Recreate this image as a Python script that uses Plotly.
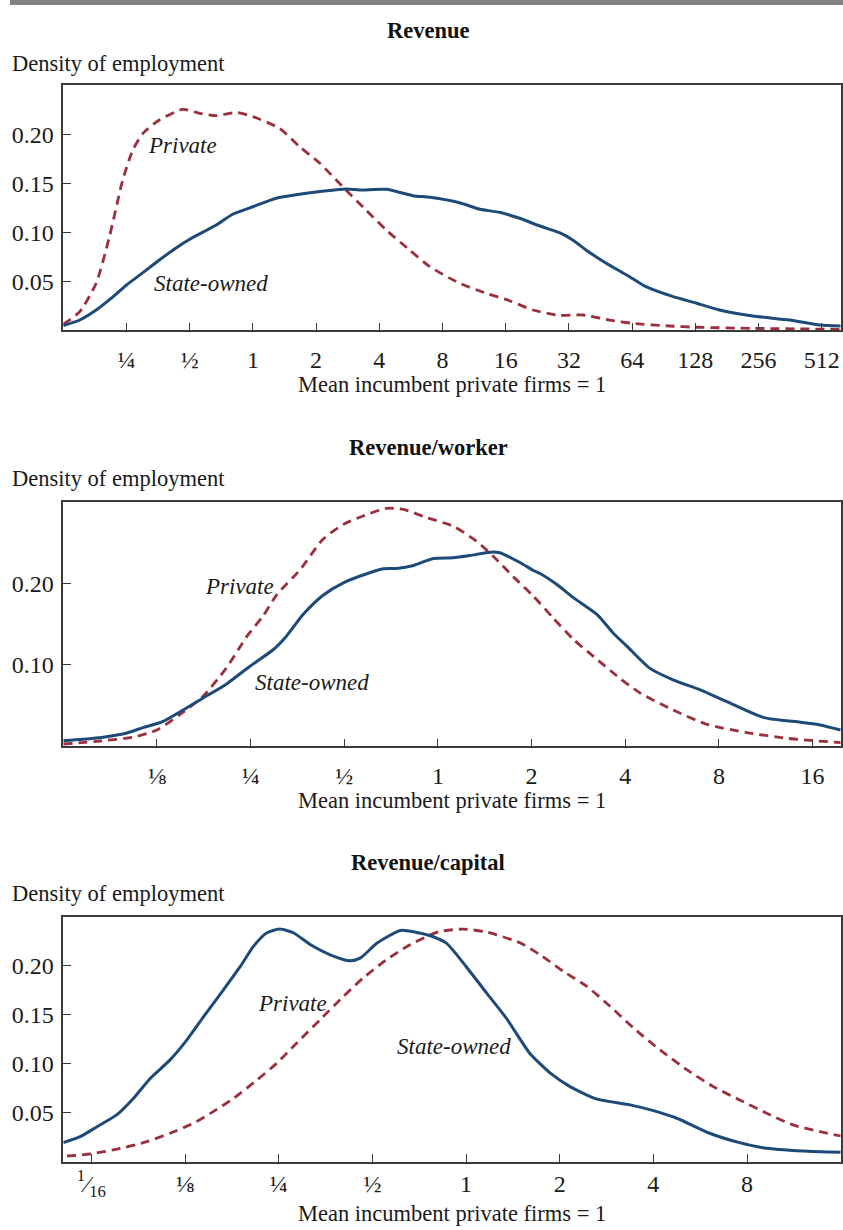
import numpy as np
import plotly.graph_objects as go

# ---------------- data (x in log2 of ratio to mean incumbent private firm) -------------
rev_state_log2 = [-3.0, -2.74, -2.48, -2.21, -2.0, -1.74, -1.48, -1.21, -1.0, -0.58, -0.32, 0.0,
                  0.37, 0.74, 1.0, 1.48, 1.69, 2.11, 2.53, 2.8, 3.27, 3.59, 3.9, 4.22, 4.54,
                  4.85, 5.06, 5.27, 5.59, 5.96, 6.22, 6.65, 7.02, 7.38, 7.91, 8.49, 8.97, 9.3]
rev_state = [0.0047, 0.0105, 0.0207, 0.0343, 0.0462, 0.0588, 0.0717, 0.0843, 0.0929, 0.1074,
             0.1184, 0.1261, 0.1347, 0.1388, 0.1411, 0.1442, 0.1432, 0.1439, 0.1374, 0.1357,
             0.1302, 0.1235, 0.1204, 0.1143, 0.1064, 0.0996, 0.0921, 0.0819, 0.0684, 0.0547,
             0.0445, 0.0343, 0.0276, 0.0207, 0.0146, 0.0105, 0.0054, 0.0044]
rev_priv_log2 = [-3.0, -2.74, -2.48, -2.27, -2.06, -1.90, -1.74, -1.48, -1.11, -0.84, -0.58,
                 -0.26, 0.0, 0.42, 0.74, 1.06, 1.42, 1.79, 2.11, 2.48, 2.8, 3.27, 3.69, 4.06,
                 4.43, 4.85, 5.22, 5.64, 6.01, 6.59, 7.02, 7.91, 9.3]
rev_priv = [0.0061, 0.019, 0.048, 0.0955, 0.1534, 0.184, 0.201, 0.2146, 0.2255, 0.2214, 0.219,
            0.2224, 0.218, 0.2061, 0.1873, 0.1704, 0.1465, 0.1228, 0.1023, 0.0819, 0.0649,
            0.048, 0.0378, 0.0302, 0.0207, 0.0153, 0.0156, 0.0105, 0.0071, 0.0044, 0.0031,
            0.002, 0.001]

rpw_state_log2 = [-4.0, -3.79, -3.54, -3.33, -3.15, -2.94, -2.72, -2.51, -2.26, -2.01, -1.76,
                  -1.62, -1.44, -1.23, -1.01, -0.76, -0.58, -0.44, -0.26, -0.05, 0.16, 0.34,
                  0.56, 0.66, 0.88, 1.02, 1.09, 1.27, 1.45, 1.70, 1.87, 2.02, 2.26, 2.51, 2.80,
                  3.12, 3.48, 3.87, 4.08, 4.3]
rpw_state = [0.0069, 0.0086, 0.0118, 0.016, 0.0229, 0.0303, 0.0446, 0.059, 0.0762, 0.0979,
             0.1184, 0.1348, 0.1615, 0.1849, 0.2005, 0.2116, 0.2177, 0.2181, 0.2218, 0.2304,
             0.2312, 0.234, 0.2381, 0.2374, 0.2251, 0.2156, 0.2119, 0.1984, 0.182, 0.1615,
             0.139, 0.1225, 0.0959, 0.0816, 0.0692, 0.0529, 0.0352, 0.0295, 0.0262, 0.02]
rpw_priv_log2 = [-4.0, -3.61, -3.26, -3.0, -2.76, -2.51, -2.26, -2.04, -1.87, -1.72, -1.47,
                 -1.23, -1.01, -0.80, -0.55, -0.37, -0.12, 0.16, 0.41, 0.59, 0.80, 1.02, 1.23,
                 1.45, 1.66, 1.94, 2.16, 2.51, 2.87, 3.30, 3.73, 4.3]
rpw_priv = [0.0028, 0.0065, 0.011, 0.02, 0.0385, 0.061, 0.0959, 0.1348, 0.1594, 0.1861, 0.2168,
            0.2537, 0.2722, 0.2824, 0.2919, 0.2907, 0.2804, 0.2701, 0.2517, 0.2332, 0.2086,
            0.184, 0.1574, 0.1307, 0.1102, 0.0836, 0.0652, 0.0446, 0.027, 0.0167, 0.0098,
            0.0044]

rpc_state_log2 = [-4.3, -4.12, -3.94, -3.73, -3.55, -3.37, -3.16, -2.98, -2.80, -2.59, -2.41,
                  -2.27, -2.13, -1.99, -1.84, -1.66, -1.45, -1.24, -1.13, -0.95, -0.70, -0.53,
                  -0.38, -0.21, 0.0, 0.22, 0.43, 0.68, 0.90, 1.11, 1.39, 1.75, 2.0, 2.25, 2.60,
                  2.92, 3.17, 3.60, 4.0]
rpc_state = [0.0197, 0.0258, 0.036, 0.048, 0.065, 0.0854, 0.1041, 0.1245, 0.1483, 0.1755,
             0.1993, 0.2197, 0.2334, 0.2374, 0.2334, 0.2214, 0.2112, 0.2051, 0.2078, 0.2231,
             0.236, 0.234, 0.2306, 0.2231, 0.1993, 0.1721, 0.1466, 0.1109, 0.0905, 0.0768,
             0.0643, 0.0582, 0.0524, 0.0446, 0.0293, 0.0197, 0.0146, 0.0112, 0.0099]
rpc_priv_log2 = [-4.26, -4.01, -3.73, -3.41, -3.16, -2.91, -2.70, -2.48, -2.23, -2.02, -1.81,
                 -1.56, -1.31, -1.10, -0.85, -0.63, -0.38, -0.28, -0.03, 0.22, 0.58, 0.79, 1.04,
                 1.29, 1.54, 1.79, 2.07, 2.36, 2.64, 2.92, 3.21, 3.49, 3.78, 4.0]
rpc_priv = [0.0061, 0.0082, 0.013, 0.0207, 0.0293, 0.0395, 0.0513, 0.065, 0.0837, 0.1007,
            0.1211, 0.1449, 0.1687, 0.1874, 0.2061, 0.2197, 0.2316, 0.235, 0.2374, 0.2344,
            0.2232, 0.2112, 0.1942, 0.1789, 0.1585, 0.1364, 0.1143, 0.0939, 0.0768, 0.0633,
            0.0497, 0.0378, 0.0309, 0.0265]

titles = ["Revenue", "Revenue/worker", "Revenue/capital"]
y_label = "Density of employment"
x_label = "Mean incumbent private firms = 1"

rev_tickvals = [0.25, 0.5, 1, 2, 4, 8, 16, 32, 64, 128, 256, 512]
rev_ticktext = ["¼", "½", "1", "2", "4", "8", "16", "32", "64", "128", "256", "512"]
rpw_tickvals = [0.125, 0.25, 0.5, 1, 2, 4, 8, 16]
rpw_ticktext = ["⅛", "¼", "½", "1", "2", "4", "8", "16"]
rpc_tickvals = [0.0625, 0.125, 0.25, 0.5, 1, 2, 4, 8]
rpc_ticktext = ["<sup>1</sup>⁄<sub>16</sub>", "⅛", "¼", "½", "1", "2", "4", "8"]

y_ticks_a = [0.05, 0.10, 0.15, 0.20]
y_ticks_b = [0.10, 0.20]

# ---------------- styling ----------------
W, H = 843, 1230
FONT = "Liberation Serif, Times New Roman, serif"
NAVY = "#1d4a78"
MAROON = "#9b2f3c"
FRAME = "#3a3a3a"
TEXT = "#1a1a1a"


def py(p):
    """page pixel (from top) -> paper y"""
    return 1 - p / H


def px(p):
    return p / W


panels = [
    dict(state=(rev_state_log2, rev_state), priv=(rev_priv_log2, rev_priv),
         xr=(-3.0, 9.3), yr=(0, 0.25), tv=rev_tickvals, tt=rev_ticktext, yt=y_ticks_a,
         top=85.3, bot=330.3, xstand=7,
         title_y=31, ylab_y=63, xlab_y=384,
         lab_priv=(146, 146), lab_state=(152, 283)),
    dict(state=(rpw_state_log2, rpw_state), priv=(rpw_priv_log2, rpw_priv),
         xr=(-4.0, 4.3), yr=(0, 0.30), tv=rpw_tickvals, tt=rpw_ticktext, yt=y_ticks_b,
         top=501.7, bot=746.3, xstand=7,
         title_y=447, ylab_y=479, xlab_y=800,
         lab_priv=(203, 586), lab_state=(253, 682)),
    dict(state=(rpc_state_log2, rpc_state), priv=(rpc_priv_log2, rpc_priv),
         xr=(-4.3, 4.0), yr=(0, 0.25), tv=rpc_tickvals, tt=rpc_ticktext, yt=y_ticks_a,
         top=916.7, bot=1162.0, xstand=-1,
         title_y=862, ylab_y=893, xlab_y=1213,
         lab_priv=(256, 1003), lab_state=(395, 1046)),
]

LEFT, RIGHT = 63.3, 840.7
LOG10_2 = np.log10(2)

fig = go.Figure()
layout = dict(
    width=W, height=H, margin=dict(l=0, r=0, t=0, b=0),
    paper_bgcolor="white", plot_bgcolor="white", showlegend=False,
    font=dict(family=FONT, size=23, color=TEXT),
)
annotations = []
shapes = [dict(type="rect", xref="paper", yref="paper", x0=px(10), x1=1.0,
               y0=py(5), y1=1.0, fillcolor="#808285", line=dict(width=0), layer="above")]

for i, p in enumerate(panels, start=1):
    xa = "x" if i == 1 else f"x{i}"
    ya = "y" if i == 1 else f"y{i}"
    sx, sy = p["state"]
    qx, qy = p["priv"]
    fig.add_trace(go.Scatter(x=np.power(2.0, qx), y=qy, mode="lines", xaxis=xa, yaxis=ya,
                             line=dict(color=MAROON, width=2.8, dash="9px,6px", shape="spline",
                                       smoothing=0.6),
                             name="Private", hoverinfo="skip"))
    fig.add_trace(go.Scatter(x=np.power(2.0, sx), y=sy, mode="lines", xaxis=xa, yaxis=ya,
                             line=dict(color=NAVY, width=3, shape="spline", smoothing=0.6),
                             name="State-owned", hoverinfo="skip"))

    axis_common = dict(showline=True, mirror=True, linecolor=FRAME, linewidth=1.5,
                       ticks="inside", ticklen=8, tickwidth=1.3, tickcolor=FRAME,
                       showgrid=False, zeroline=False, fixedrange=True,
                       tickfont=dict(family=FONT, size=24, color=TEXT))
    layout["xaxis" if i == 1 else f"xaxis{i}"] = dict(
        axis_common, type="log", anchor=ya,
        range=[p["xr"][0] * LOG10_2, p["xr"][1] * LOG10_2],
        domain=[px(LEFT), px(RIGHT)],
        tickvals=p["tv"], ticktext=p["tt"], ticklabelstandoff=p["xstand"])
    layout["yaxis" if i == 1 else f"yaxis{i}"] = dict(
        axis_common, anchor=xa, range=list(p["yr"]),
        domain=[py(p["bot"]), py(p["top"])],
        tickvals=p["yt"], ticktext=[f"{v:.2f}" for v in p["yt"]], ticklabelstandoff=3)

    annotations += [
        dict(text=f"<b>{titles[i-1]}</b>", x=px(428), y=py(p["title_y"]), xref="paper",
             yref="paper", showarrow=False, xanchor="center", yanchor="middle",
             font=dict(family=FONT, size=22.5, color="#111")),
        dict(text=y_label, x=px(10), y=py(p["ylab_y"]), xref="paper", yref="paper",
             showarrow=False, xanchor="left", yanchor="middle",
             font=dict(family=FONT, size=22.5, color=TEXT)),
        dict(text=x_label, x=px(452), y=py(p["xlab_y"]), xref="paper", yref="paper",
             showarrow=False, xanchor="center", yanchor="middle",
             font=dict(family=FONT, size=22.5, color=TEXT)),
        dict(text="<i>Private</i>", x=px(p["lab_priv"][0]), y=py(p["lab_priv"][1]),
             xref="paper", yref="paper", showarrow=False, xanchor="left", yanchor="middle",
             font=dict(family=FONT, size=23, color=TEXT)),
        dict(text="<i>State-owned</i>", x=px(p["lab_state"][0]), y=py(p["lab_state"][1]),
             xref="paper", yref="paper", showarrow=False, xanchor="left", yanchor="middle",
             font=dict(family=FONT, size=23, color=TEXT)),
    ]

layout["annotations"] = annotations
layout["shapes"] = shapes
fig.update_layout(**layout)
fig.write_html("out.html")
